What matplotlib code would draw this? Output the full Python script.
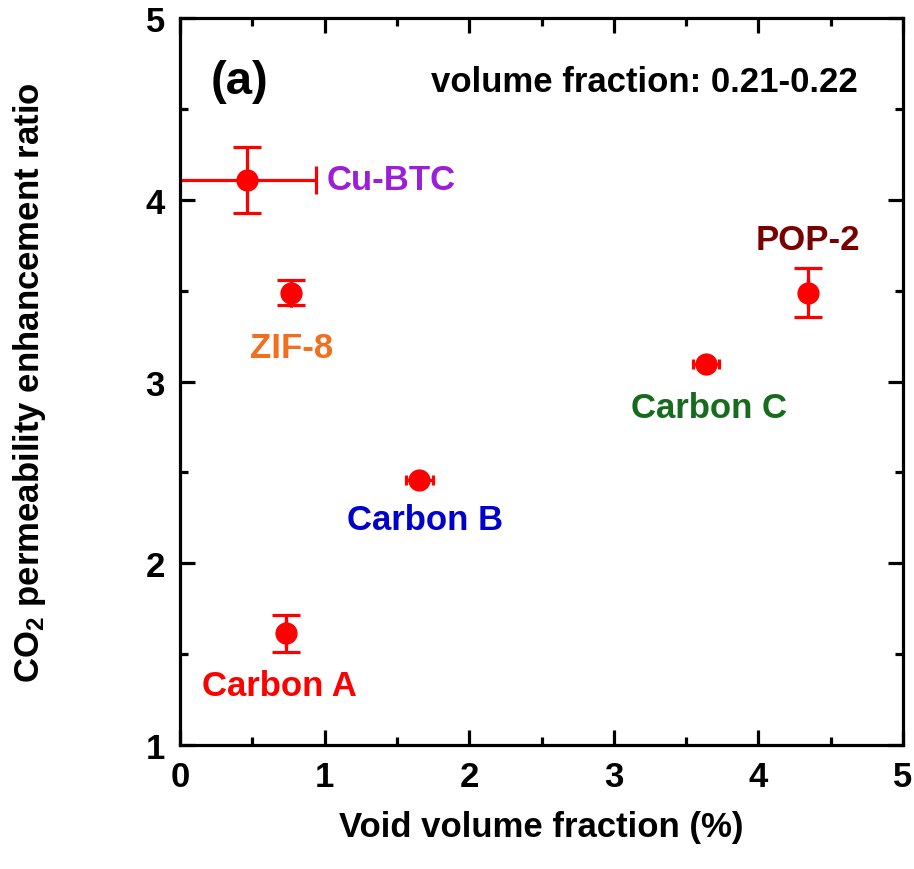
import matplotlib
matplotlib.use("Agg")
import matplotlib.pyplot as plt
from matplotlib.ticker import MultipleLocator

plt.rcParams['font.family'] = ['Liberation Sans', 'DejaVu Sans']
plt.rcParams['font.weight'] = 'bold'
plt.rcParams['mathtext.fontset'] = 'custom'
plt.rcParams['mathtext.rm'] = 'Liberation Sans:bold'
plt.rcParams['mathtext.bf'] = 'Liberation Sans:bold'
plt.rcParams['mathtext.it'] = 'Liberation Sans:bold'

# Data
materials = ["Cu-BTC", "ZIF-8", "Carbon A", "Carbon B", "Carbon C", "POP-2"]
void_fraction = [0.465, 0.77, 0.735, 1.655, 3.64, 4.34]
void_err = [0.473, 0.0, 0.0, 0.093, 0.09, 0.0]
enhancement = [4.11, 3.49, 1.615, 2.46, 3.095, 3.49]
enhancement_err = [0.18, 0.07, 0.103, 0.0, 0.0, 0.137]
label_colors = ["#9B1FD6", "#F07020", "#FF0000", "#0000CC", "#176B1E", "#7A0000"]
# label offsets in data units relative to each point, with horizontal alignment
label_dx = [0.55, 0.0, -0.05, 0.04, 0.02, 0.0]
label_dy = [0.0, -0.30, -0.29, -0.22, -0.24, 0.29]
label_ha = ["left", "center", "center", "center", "center", "center"]
# points whose error bars get the wide caps
wide_caps = [0, 1, 2, 5]
narrow_caps = [3, 4]

fig = plt.figure(figsize=(9.14, 8.70), dpi=100)
ax = fig.add_axes([0.197, 0.1425, 0.791, 0.8355])

for idx, cap in ((wide_caps, 10), (narrow_caps, 3.5)):
    ax.errorbar([void_fraction[i] for i in idx], [enhancement[i] for i in idx],
                xerr=[void_err[i] for i in idx],
                yerr=[enhancement_err[i] for i in idx],
                fmt='o', color='#FF0000', ms=15, elinewidth=2.3, capsize=cap,
                capthick=2.3, zorder=2)

for name, x, y, dx, dy, ha, c in zip(materials, void_fraction, enhancement,
                                     label_dx, label_dy, label_ha, label_colors):
    ax.text(x + dx, y + dy, name, color=c, fontsize=25, fontweight='bold',
            ha=ha, va='center')

ax.text(0.042, 0.913, "(a)", transform=ax.transAxes, fontsize=34,
        fontweight='bold', va='center', ha='left')
ax.text(0.937, 0.913, "volume fraction: 0.21-0.22", transform=ax.transAxes,
        fontsize=25, fontweight='bold', va='center', ha='right')

ax.set_xlim(0, 5)
ax.set_ylim(1, 5)
ax.xaxis.set_major_locator(MultipleLocator(1))
ax.xaxis.set_minor_locator(MultipleLocator(0.5))
ax.yaxis.set_major_locator(MultipleLocator(1))
ax.yaxis.set_minor_locator(MultipleLocator(0.5))
ax.tick_params(which='both', direction='in', top=True, right=True,
               labelsize=25, width=2.3)
ax.tick_params(axis='x', pad=11)
ax.tick_params(axis='y', pad=11)
ax.tick_params(which='major', length=11)
ax.tick_params(which='minor', length=6)
for t in ax.get_xticklabels() + ax.get_yticklabels():
    t.set_fontweight('bold')
for s in ax.spines.values():
    s.set_linewidth(2.3)

ax.set_xlabel("Void volume fraction (%)", fontsize=25, fontweight='bold',
              labelpad=12)
ax.set_ylabel(r"CO$_{\mathbf{2}}$ permeability enhancement ratio", fontsize=25,
              fontweight='bold', labelpad=70)

fig.savefig("out.png", dpi=100)
